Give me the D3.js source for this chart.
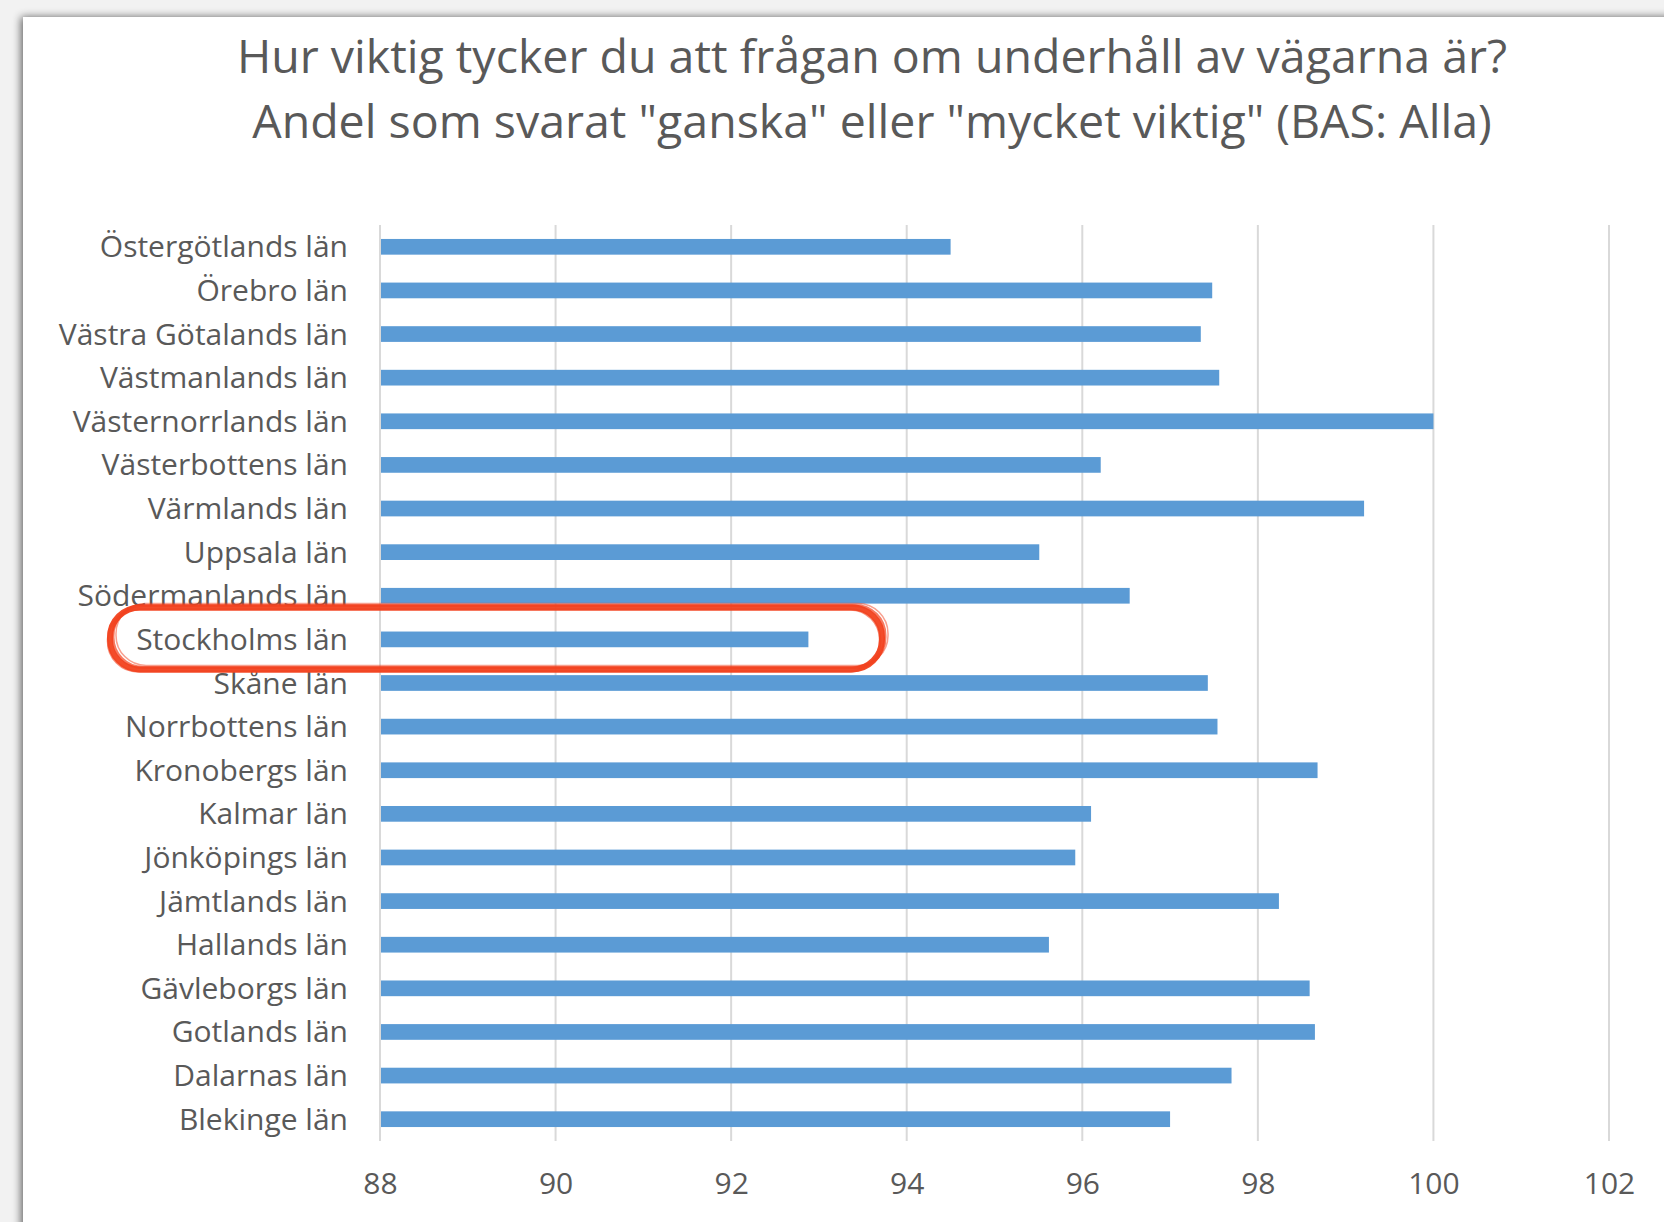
<!DOCTYPE html>
<html>
<head>
<meta charset="utf-8">
<script src="https://cdn.jsdelivr.net/npm/d3@7"></script>
<style>
  html, body { margin: 0; padding: 0; background: #f2f2f2; }
  svg { display: block; }
  text { font-family: "Open Sans", "DejaVu Sans", sans-serif; fill: #595959; }
</style>
</head>
<body>
<svg id="chart"></svg>
<script>
const titleLines = [
    "Hur viktig tycker du att frågan om underhåll av vägarna är?",
    "Andel som svarat \"ganska\" eller \"mycket viktig\" (BAS: Alla)"
];
const counties = [
    "Östergötlands län", "Örebro län", "Västra Götalands län", "Västmanlands län",
    "Västernorrlands län", "Västerbottens län", "Värmlands län", "Uppsala län",
    "Södermanlands län", "Stockholms län", "Skåne län", "Norrbottens län",
    "Kronobergs län", "Kalmar län", "Jönköpings län", "Jämtlands län",
    "Hallands län", "Gävleborgs län", "Gotlands län", "Dalarnas län", "Blekinge län"
];
const shares = [
    94.5, 97.48, 97.35, 97.56, 100.0, 96.21, 99.21, 95.51, 96.54, 92.88,
    97.43, 97.54, 98.68, 96.1, 95.92, 98.24, 95.62, 98.59, 98.65, 97.7, 97.0
];
const xTicks = [88, 90, 92, 94, 96, 98, 100, 102];
const highlighted = "Stockholms län";

const width = 1664;
const height = 1222;
const margin = {top: 225, right: 55, bottom: 81, left: 380};

const svg = d3.select("#chart")
    .attr("width", width)
    .attr("height", height);

// card with shadow
const defs = svg.append("defs");
const shadow = defs.append("filter").attr("id", "shadow")
    .attr("x", "-5%").attr("y", "-5%").attr("width", "110%").attr("height", "110%");
shadow.append("feGaussianBlur").attr("in", "SourceAlpha").attr("stdDeviation", 4);
shadow.append("feOffset").attr("dx", -2).attr("dy", 0).attr("result", "blur");
shadow.append("feComponentTransfer").append("feFuncA").attr("type", "linear").attr("slope", 0.6);
const merge = shadow.append("feMerge");
merge.append("feMergeNode");
merge.append("feMergeNode").attr("in", "SourceGraphic");

svg.append("rect")
    .attr("x", 23).attr("y", 17)
    .attr("width", width + 20).attr("height", height + 20)
    .attr("fill", "#fff")
    .attr("filter", "url(#shadow)");

// title
const title = svg.append("g").attr("class", "title");
titleLines.forEach((line, i) => {
    title.append("text")
        .attr("x", 872)
        .attr("y", 73 + i * 65)
        .attr("text-anchor", "middle")
        .style("font-size", "46.5px")
        .text(line);
});

const x = d3.scaleLinear()
    .domain([88, 102])
    .range([margin.left, width - margin.right]);

const y = d3.scaleBand()
    .domain(counties)
    .range([margin.top, height - margin.bottom])
    .paddingInner(0.64)
    .paddingOuter(0.32);

// gridlines
svg.append("g")
    .attr("class", "grid")
    .selectAll("line")
    .data(xTicks)
    .enter().append("line")
    .attr("x1", d => x(d)).attr("x2", d => x(d))
    .attr("y1", margin.top).attr("y2", height - margin.bottom)
    .attr("stroke", "#d9d9d9")
    .attr("stroke-width", 2);

// bars
svg.append("g")
    .attr("class", "bars")
    .selectAll("rect")
    .data(counties.map((c, i) => ({county: c, value: shares[i]})))
    .enter().append("rect")
    .attr("x", x(88) + 1)
    .attr("y", d => y(d.county))
    .attr("width", d => x(d.value) - x(88) - 1)
    .attr("height", y.bandwidth())
    .attr("fill", "#5b9bd5");

// category labels
svg.append("g")
    .attr("class", "labels")
    .selectAll("text")
    .data(counties)
    .enter().append("text")
    .attr("x", margin.left - 32)
    .attr("y", d => y(d) + y.bandwidth() / 2)
    .attr("dy", "0.35em")
    .attr("text-anchor", "end")
    .style("font-size", "30px")
    .text(d => d);

// x axis labels
const xAxis = svg.append("g")
    .attr("transform", `translate(0, ${height - margin.bottom})`)
    .call(d3.axisBottom(x).tickValues(xTicks).tickSize(0).tickPadding(32));
xAxis.select(".domain").remove();
xAxis.selectAll("text")
    .style("font-size", "30px")
    .style("font-family", "\"Open Sans\", sans-serif")
    .attr("fill", "#595959");

// hand drawn red outline around the highlighted county
const yc = y(highlighted) + y.bandwidth() / 2;
const ring = svg.append("g").attr("class", "highlight").attr("fill", "none");
const strokes = [
    {dx: 0, dy: 0, w: 6, o: 0.95},
    {dx: 3, dy: -2, w: 3, o: 0.7},
    {dx: -2, dy: 2, w: 2.5, o: 0.6},
    {dx: 6, dy: -4, w: 1.5, o: 0.5}
];
strokes.forEach(s => {
    ring.append("rect")
        .attr("x", 110 + s.dx)
        .attr("y", yc - 32 + s.dy)
        .attr("width", 772)
        .attr("height", 62)
        .attr("rx", 30)
        .attr("stroke", "#f2421f")
        .attr("stroke-width", s.w)
        .attr("stroke-opacity", s.o);
});
</script>
</body>
</html>
